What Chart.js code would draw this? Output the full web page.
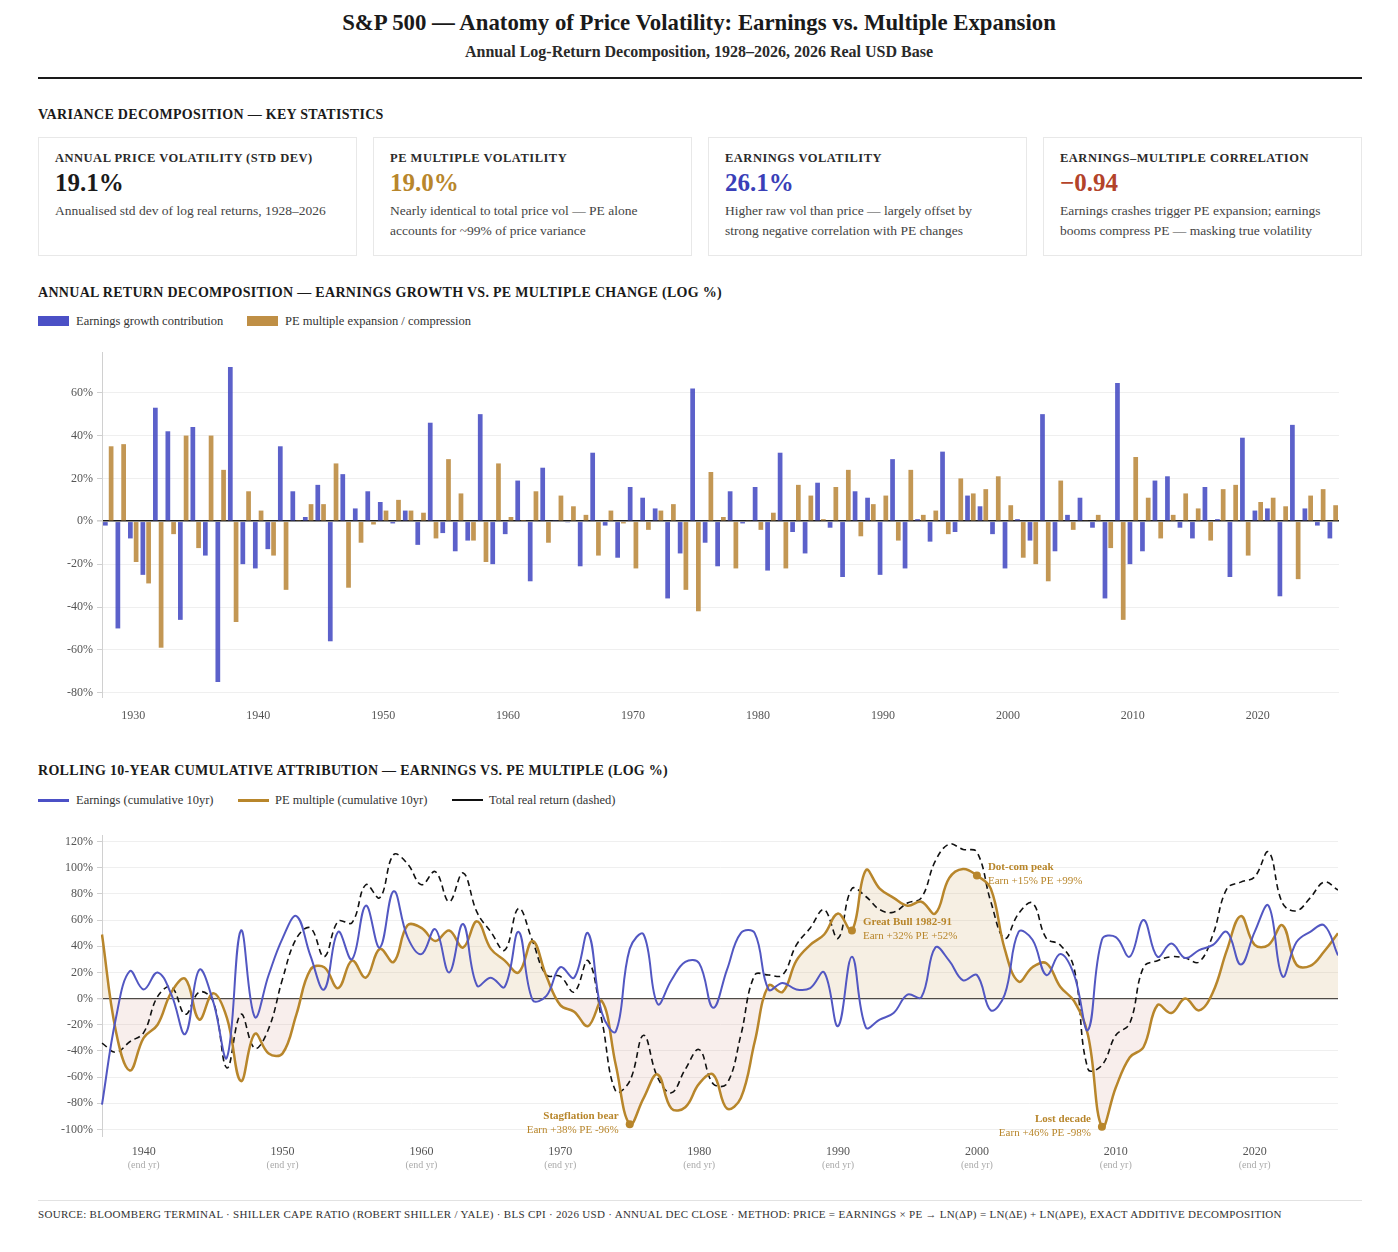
<!DOCTYPE html>
<html><head><meta charset="utf-8">
<script src="https://cdn.jsdelivr.net/npm/chart.js@4.4.1/dist/chart.umd.min.js"></script>
<style>
body{margin:0;background:#fff;font-family:"Liberation Serif","Times New Roman",serif;color:#1a1a1a;}
#page{position:relative;width:1398px;height:1252px;overflow:hidden;}
.abs{position:absolute;}
.title{left:0;width:1398px;top:8px;text-align:center;font-size:22.8px;font-weight:bold;line-height:30px;}
.subtitle{left:0;width:1398px;top:42px;text-align:center;font-size:16px;font-weight:bold;color:#2a2a2a;line-height:20px;}
.rule{left:38px;width:1324px;top:77px;height:2px;background:#1a1a1a;}
.h{left:38px;font-size:14px;font-weight:bold;letter-spacing:0.3px;line-height:18px;}
.card{top:137px;width:319px;height:119px;border:1px solid #e8e8e8;box-sizing:border-box;background:#fff;}
.card .lab{position:absolute;left:16px;top:12px;font-size:12.5px;font-weight:bold;letter-spacing:0.5px;color:#2a2a2a;line-height:16px;white-space:nowrap;}
.card .val{position:absolute;left:16px;top:30px;font-size:25px;font-weight:bold;line-height:30px;}
.card .desc{position:absolute;left:16px;top:63px;font-size:13.5px;line-height:20px;color:#444;width:300px;}
.leg{font-size:12.5px;color:#333;line-height:14px;white-space:nowrap;}
.box{width:31px;height:10px;}
.ln{height:3px;width:31px;}
.foot{left:38px;top:1208px;font-size:11px;color:#333;white-space:nowrap;letter-spacing:0.3px;}
</style></head>
<body><div id="page">
<div class="abs title">S&amp;P 500 — Anatomy of Price Volatility: Earnings vs. Multiple Expansion</div>
<div class="abs subtitle">Annual Log-Return Decomposition, 1928–2026, 2026 Real USD Base</div>
<div class="abs rule"></div>
<div class="abs h" style="top:106px">VARIANCE DECOMPOSITION — KEY STATISTICS</div>

<div class="abs card" style="left:38px"><div class="lab">ANNUAL PRICE VOLATILITY (STD DEV)</div><div class="val" style="color:#1a1a1a">19.1%</div><div class="desc">Annualised std dev of log real returns, 1928–2026</div></div>
<div class="abs card" style="left:373px"><div class="lab">PE MULTIPLE VOLATILITY</div><div class="val" style="color:#b8862b">19.0%</div><div class="desc">Nearly identical to total price vol — PE alone<br>accounts for ~99% of price variance</div></div>
<div class="abs card" style="left:708px"><div class="lab">EARNINGS VOLATILITY</div><div class="val" style="color:#3a3fb8">26.1%</div><div class="desc">Higher raw vol than price — largely offset by<br>strong negative correlation with PE changes</div></div>
<div class="abs card" style="left:1043px"><div class="lab">EARNINGS–MULTIPLE CORRELATION</div><div class="val" style="color:#b3432a">−0.94</div><div class="desc">Earnings crashes trigger PE expansion; earnings<br>booms compress PE — masking true volatility</div></div>

<div class="abs h" style="top:284px">ANNUAL RETURN DECOMPOSITION — EARNINGS GROWTH VS. PE MULTIPLE CHANGE (LOG %)</div>
<div class="abs box" style="left:38px;top:316px;background:#4b50c6"></div>
<div class="abs leg" style="left:76px;top:314px">Earnings growth contribution</div>
<div class="abs box" style="left:247px;top:316px;background:#bf8f45"></div>
<div class="abs leg" style="left:285px;top:314px">PE multiple expansion / compression</div>
<div class="abs" style="left:38px;top:345px;width:1301px;height:387px"><canvas id="bar"></canvas></div>

<div class="abs h" style="top:762px">ROLLING 10-YEAR CUMULATIVE ATTRIBUTION — EARNINGS VS. PE MULTIPLE (LOG %)</div>
<div class="abs ln" style="left:38px;top:799px;background:#4b50c6"></div>
<div class="abs leg" style="left:76px;top:793px">Earnings (cumulative 10yr)</div>
<div class="abs ln" style="left:238px;top:799px;background:#b8862b"></div>
<div class="abs leg" style="left:275px;top:793px">PE multiple (cumulative 10yr)</div>
<div class="abs ln" style="left:452px;top:799px;background:#111;height:2px"></div>
<div class="abs leg" style="left:489px;top:793px">Total real return (dashed)</div>
<div class="abs" style="left:38px;top:828px;width:1300px;height:350px"><canvas id="line"></canvas></div>

<div class="abs" style="left:38px;top:1200px;width:1324px;height:1px;background:#e2e2e2"></div>
<div class="abs foot">SOURCE: BLOOMBERG TERMINAL · SHILLER CAPE RATIO (ROBERT SHILLER / YALE) · BLS CPI · 2026 USD · ANNUAL DEC CLOSE · METHOD: PRICE = EARNINGS × PE → LN(ΔP) = LN(ΔE) + LN(ΔPE), EXACT ADDITIVE DECOMPOSITION</div>
</div>
<script>
// ---- Annual bar data (1928–2026) ----
const barYears = [1928,1929,1930,1931,1932,1933,1934,1935,1936,1937,1938,1939,1940,1941,1942,1943,1944,1945,1946,1947,1948,1949,1950,1951,1952,1953,1954,1955,1956,1957,1958,1959,1960,1961,1962,1963,1964,1965,1966,1967,1968,1969,1970,1971,1972,1973,1974,1975,1976,1977,1978,1979,1980,1981,1982,1983,1984,1985,1986,1987,1988,1989,1990,1991,1992,1993,1994,1995,1996,1997,1998,1999,2000,2001,2002,2003,2004,2005,2006,2007,2008,2009,2010,2011,2012,2013,2014,2015,2016,2017,2018,2019,2020,2021,2022,2023,2024,2025,2026];
const earningsGrowth = [-2,-50,-8,-25,53,42,-46,44,-16,-75, 72,-20,-22,-13,35,14,2,17,-56,22, 6,14,9,-1,5,-11,46,-5.5,-14,-9, 50,-20,-6,19,-28,25,0.5,-0.5,-21,32, -2,-17,16,11,6,-36,-15,62,-10,-21, 14,-1,16,-23,32,-5,-15,18,-3,-26, 14,11,-25,29,-22,1,-9.5,32.5,-5,12, 7,-6,-22,1,-9,50,-14,3,11,-3, -36,64.5,-20,-14,19,21,-3,-8,16,1, -26,39,5,6,-35,45,6,-2,-8];
const peChange = [35,36,-19,-29,-59,-6,40,-12.5,40,24, -47,14,5,-16,-32,0.5,8,8,27,-31, -10,-1.5,5,10,5,4,-8,29,13,-9, -19,27,2,0.6,14,-10,12,7,3,-16, 5,-1,-22,-4,5,8,-32,-42,23,2, -22,0.3,-4,4,-22,17,12,1,16,24, -7,8,12,-9,24,3,5,-6,20,13, 15,21,7.5,-17,-20,-28,19,-4,0.3,3, -12.5,-46,30,11,-8,3,13,6,-9,15, 17,-16,9,11,7,-27,12,15,7.5];
const barTicks = [-80,-60,-40,-20,0,20,40,60];

// ---- Rolling 10-year cumulative (end year 1937–2026) ----
const lineYears = [1937,1938,1939,1940,1941,1942,1943,1944,1945,1946,1947,1948,1949,1950,1951,1952,1953,1954,1955,1956,1957,1958,1959,1960,1961,1962,1963,1964,1965,1966,1967,1968,1969,1970,1971,1972,1973,1974,1975,1976,1977,1978,1979,1980,1981,1982,1983,1984,1985,1986,1987,1988,1989,1990,1991,1992,1993,1994,1995,1996,1997,1998,1999,2000,2001,2002,2003,2004,2005,2006,2007,2008,2009,2010,2011,2012,2013,2014,2015,2016,2017,2018,2019,2020,2021,2022,2023,2024,2025,2026];
const earnings10 = [-81,-15,21,7,20,3,-27,22,-2,-45, 52,-14,18,46,63,33,7,51,30,71, 39,82,47,34,53,20,57,10,16,9, 51,-1,2,24,16,50,-11,-25,38,49, -4,14,28,27,-7,22,50,50,7,12, 7,8,20,-21,32,-22,-16,-11,3,1, 39,29,14,18,-9,3,51,45,18,34, 18,-24,45,47,32,60,32,42,31,37, 41,51,26,51,71,17,43,51,56,33];
const pe10 = [49,-25,-55,-30,-20,5,15,-16,4,-15, -63,-27,-42,-42,-12,22,24,8,29,16, 38,28,56,54,44,52,39,59,38,29, 20,44,17,-5,-10,-21,-2,-51,-96,-76, -58,-84,-83,-65,-58,-84,-76,-33,10,5, 29,41,49,65,52,98,84,77,71,74, 65,92,99,94,84,38,13,24,27,9, -2,-28,-98,-68,-45,-37,-5,-11,0,-9, 5,37,63,41,41,56,26,25,36,50];
const total10 = [-34,-41,-33,-26,1.5,9,-12,5,-2,-53, -12,-38,-23,15,46,54,32,59,58,87, 77,110,103,87,97,74,96,66,51,37, 69,44,18,17,5,29,-17,-71,-63,-28, -60,-72,-54,-39,-65,-65,-28,18,18,18, 41,54,68,46,84,78,68,66,73,77, 105,118,114,112,74,46,65,73,46,41, 23,-54,-51,-28,-19,24,29,32,31,28, 49,84,89,93,112,73,67,77,89,83];
const lineTicks = [-100,-80,-60,-40,-20,0,20,40,60,80,100,120];

const annotations = [
  {year:1975, title:'Stagflation bear', sub:'Earn +38% PE -96%', side:'left'},
  {year:1991, title:'Great Bull 1982-91', sub:'Earn +32% PE +52%', side:'right'},
  {year:2000, title:'Dot-com peak', sub:'Earn +15% PE +99%', side:'right'},
  {year:2009, title:'Lost decade', sub:'Earn +46% PE -98%', side:'left'}
];

const GOLDL = '#b8862b';
const FONT = '"Liberation Serif","Times New Roman",serif';

Chart.defaults.font.family = FONT;
Chart.defaults.animation = false;

function fixY(width){ return s=>{ s.width=width; s.paddingTop=0; s.paddingBottom=0; }; }
function fixX(height){ return s=>{ s.height=height; s.paddingLeft=0; s.paddingRight=0; }; }

new Chart(document.getElementById('bar'), {
  type:'bar',
  data:{labels:barYears.map(String), datasets:[
    {label:'Earnings growth contribution', data:earningsGrowth, backgroundColor:'rgba(70,75,195,0.88)', categoryPercentage:0.92, barPercentage:0.82},
    {label:'PE multiple expansion / compression', data:peChange, backgroundColor:'rgba(188,140,65,0.9)', categoryPercentage:0.92, barPercentage:0.82}
  ]},
  options:{
    responsive:true, maintainAspectRatio:false,
    layout:{padding:{top:7,right:0,left:0,bottom:0}},
    plugins:{legend:{display:false}, tooltip:{enabled:false}},
    scales:{
      x:{grid:{display:false,drawTicks:false}, border:{display:false},
         ticks:{autoSkip:false, maxRotation:0, padding:12, color:'#555', font:{size:12,family:FONT},
           callback:function(v,i){const y=barYears[i]; return y%10===0?String(y):'';}},
         afterFit:fixX(35)},
      y:{min:-82, max:79,
         afterBuildTicks:s=>{ s.ticks = barTicks.map(v=>({value:v})); },
         ticks:{color:'#555', font:{size:12,family:FONT}, padding:4, callback:v=>v+'%'},
         grid:{color:c=>c.tick && c.tick.value===0?'#1a1a1a':'#efefef', lineWidth:c=>c.tick && c.tick.value===0?1.6:1, tickLength:5, tickColor:'#d0d0d0'},
         border:{color:'#d0d0d0'},
         afterFit:fixY(64)}
    }
  }
});

const subLabelPlugin = {
  id:'subLabel',
  afterDraw(chart){
    const xs = chart.scales.x, ctx = chart.ctx;
    ctx.save();
    ctx.font = '10px '+FONT; ctx.fillStyle='#aaa'; ctx.textAlign='center'; ctx.textBaseline='middle';
    lineYears.forEach((y,i)=>{ if(y%10===0){ ctx.fillText('(end yr)', xs.getPixelForTick(i), chart.chartArea.bottom+29); }});
    ctx.restore();
  }
};
const annoPlugin = {
  id:'anno',
  afterDatasetsDraw(chart){
    const meta = chart.getDatasetMeta(1), ctx = chart.ctx;
    ctx.save();
    ctx.fillStyle = GOLDL; ctx.textBaseline='middle';
    annotations.forEach(a=>{
      const pt = meta.data[lineYears.indexOf(a.year)];
      const left = a.side==='left';
      ctx.textAlign = left?'right':'left';
      const x = left? pt.x-11 : pt.x+11;
      ctx.font = 'bold 11px '+FONT;
      ctx.fillText(a.title, x, pt.y-8);
      ctx.font = '11px '+FONT;
      ctx.fillText(a.sub, x, pt.y+6);
    });
    ctx.restore();
  }
};
const annoIdx = annotations.map(a=>lineYears.indexOf(a.year));

new Chart(document.getElementById('line'), {
  type:'line',
  data:{labels:lineYears.map(String), datasets:[
    {label:'Earnings (cumulative 10yr)', data:earnings10, borderColor:'#5257c2', borderWidth:2, tension:0.4, pointRadius:0, fill:false},
    {label:'PE multiple (cumulative 10yr)', data:pe10, borderColor:GOLDL, borderWidth:2.5, tension:0.4,
      pointRadius:lineYears.map((y,i)=>annoIdx.includes(i)?4:0), pointBackgroundColor:GOLDL, pointBorderWidth:0,
      fill:{target:{value:0}, above:'rgba(205,165,100,0.18)', below:'rgba(210,140,130,0.15)'}},
    {label:'Total real return (dashed)', data:total10, borderColor:'#111', borderWidth:1.6, borderDash:[6,4], tension:0.4, pointRadius:0, fill:false}
  ]},
  options:{
    responsive:true, maintainAspectRatio:false,
    layout:{padding:{top:7,right:0,left:0,bottom:0}},
    plugins:{legend:{display:false}, tooltip:{enabled:false}, filler:{drawTime:'beforeDatasetsDraw'}},
    scales:{
      x:{grid:{display:false,drawTicks:false}, border:{display:false},
         ticks:{autoSkip:false, maxRotation:0, padding:9, color:'#555', font:{size:12,family:FONT},
           callback:function(v,i){const y=lineYears[i]; return y%10===0?String(y):'';}},
         afterFit:fixX(42)},
      y:{min:-105, max:125,
         afterBuildTicks:s=>{ s.ticks = lineTicks.map(v=>({value:v})); },
         ticks:{color:'#555', font:{size:12,family:FONT}, padding:4, callback:v=>v+'%'},
         grid:{color:c=>c.tick && c.tick.value===0?'#444':'#efefef', lineWidth:c=>c.tick && c.tick.value===0?1.3:1, tickLength:5, tickColor:'#d0d0d0'},
         border:{color:'#d0d0d0'},
         afterFit:fixY(64)}
    }
  },
  plugins:[subLabelPlugin, annoPlugin]
});
</script>
</body></html>
